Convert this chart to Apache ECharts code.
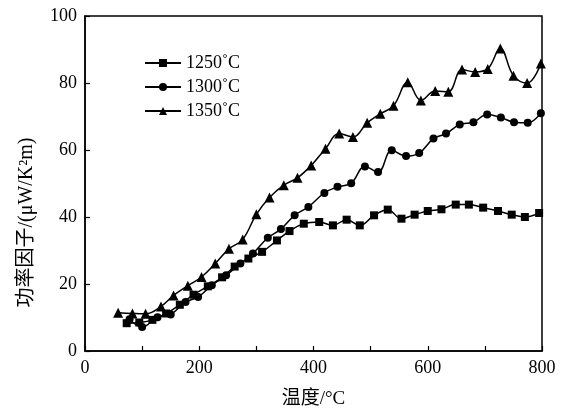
<!DOCTYPE html>
<html><head><meta charset="utf-8">
<script src="https://cdn.jsdelivr.net/npm/echarts@6/dist/echarts.min.js"></script>
<style>html,body{margin:0;padding:0;background:#fff}#c{width:565px;height:409px}</style>
</head><body><div id="c"></div>
<script>
var seriesNames = ['1250˚C', '1300˚C', '1350˚C'];
var temp1250 = [73,95,118,142,166,190,215,240,262,286,310,336,358,383,410,434,458,481,506,530,554,577,600,624,649,672,697,723,747,770,795];
var val1250  = [8.3,8.5,9.3,11.2,13.8,16.8,19.3,22,25.2,27.6,29.6,33,35.8,38,38.5,37.5,39.2,37.5,40.5,42.2,39.5,40.7,41.8,42.3,43.7,43.7,42.8,41.8,40.7,40,41.2];
var temp1300 = [78,100,127,150,176,198,222,247,272,294,320,343,367,391,419,442,466,490,513,537,562,585,610,632,656,680,704,728,751,775,798];
var val1300  = [9.5,7.2,10.1,10.9,14.6,16.1,19.6,22.6,26.1,29.1,33.8,36.4,40.5,43,47.2,49,50.1,55.1,53.4,59.9,58.2,59.1,63.4,64.9,67.6,68.3,70.6,69.7,68.3,68.1,71];
var temp1350 = [58,83,106,133,155,180,204,228,252,276,300,323,348,372,396,421,445,469,494,517,540,565,588,613,636,660,683,705,727,750,774,798];
var val1350  = [11.4,11.2,11.1,13.3,16.6,19.5,22.1,26.1,30.5,33.3,40.8,45.8,49.5,51.7,55.4,60.4,64.9,63.9,68.1,70.8,73.2,80.2,74.8,77.6,77.4,84,83.3,84.2,90.3,82.2,80,85.8];
var xTickLabels = [0,200,400,600,800];
var yTickLabels = [0,20,40,60,80,100];

function pairs(xs, ys){ return xs.map(function(x,i){ return [x, ys[i]]; }); }
var serif = '"Liberation Serif","DejaVu Serif",serif';
var mixed = '"Liberation Serif","Noto Sans CJK SC",serif';

var chart = echarts.init(document.getElementById('c'));
function mk(name, xs, ys, sym, size){
  return {name:name, type:'line', data:pairs(xs,ys), smooth:0.4, symbol:sym, symbolSize:size,
    showAllSymbol:true,
    lineStyle:{color:'#000', width:1.5}, itemStyle:{color:'#000'}, emphasis:{disabled:true}};
}
chart.setOption({
  animation:false,
  grid:{left:85, right:23, top:16, bottom:58, containLabel:false, outerBoundsMode:'none',
    show:true, borderColor:'#000', borderWidth:1.5, backgroundColor:'transparent'},
  legend:{orient:'vertical', left:139, top:49, itemWidth:36, itemHeight:10, itemGap:6,
    textStyle:{fontFamily:serif, fontSize:18, color:'#000'}, data:seriesNames},
  xAxis:{type:'value', min:0, max:800, interval:100,
    name:'温度/°C', nameLocation:'middle', nameGap:39,
    nameTextStyle:{fontFamily:mixed, fontSize:19, color:'#000'},
    axisLine:{lineStyle:{color:'#000', width:1.5}},
    axisTick:{inside:true, length:5, lineStyle:{color:'#000', width:1.2}},
    axisLabel:{fontFamily:serif, fontSize:18, color:'#000', margin:8,
      formatter:function(v){ return xTickLabels.indexOf(v)>=0 ? String(v) : ''; }},
    splitLine:{show:false}},
  yAxis:{type:'value', min:0, max:100, interval:20,
    name:'功率因子/(μW/K²m)', nameLocation:'middle', nameGap:48,
    nameTextStyle:{fontFamily:mixed, fontSize:20, color:'#000', padding:[0,78,0,0]},
    axisLine:{lineStyle:{color:'#000', width:1.5}},
    axisTick:{inside:true, length:5, lineStyle:{color:'#000', width:1.2}},
    axisLabel:{fontFamily:serif, fontSize:18, color:'#000', margin:8,
      formatter:function(v){ return yTickLabels.indexOf(v)>=0 ? String(v) : ''; }},
    splitLine:{show:false}},
  series:[
    mk(seriesNames[0], temp1250, val1250, 'rect', 8),
    mk(seriesNames[1], temp1300, val1300, 'circle', 8),
    mk(seriesNames[2], temp1350, val1350, 'triangle', 10)
  ]
});
</script></body></html>
